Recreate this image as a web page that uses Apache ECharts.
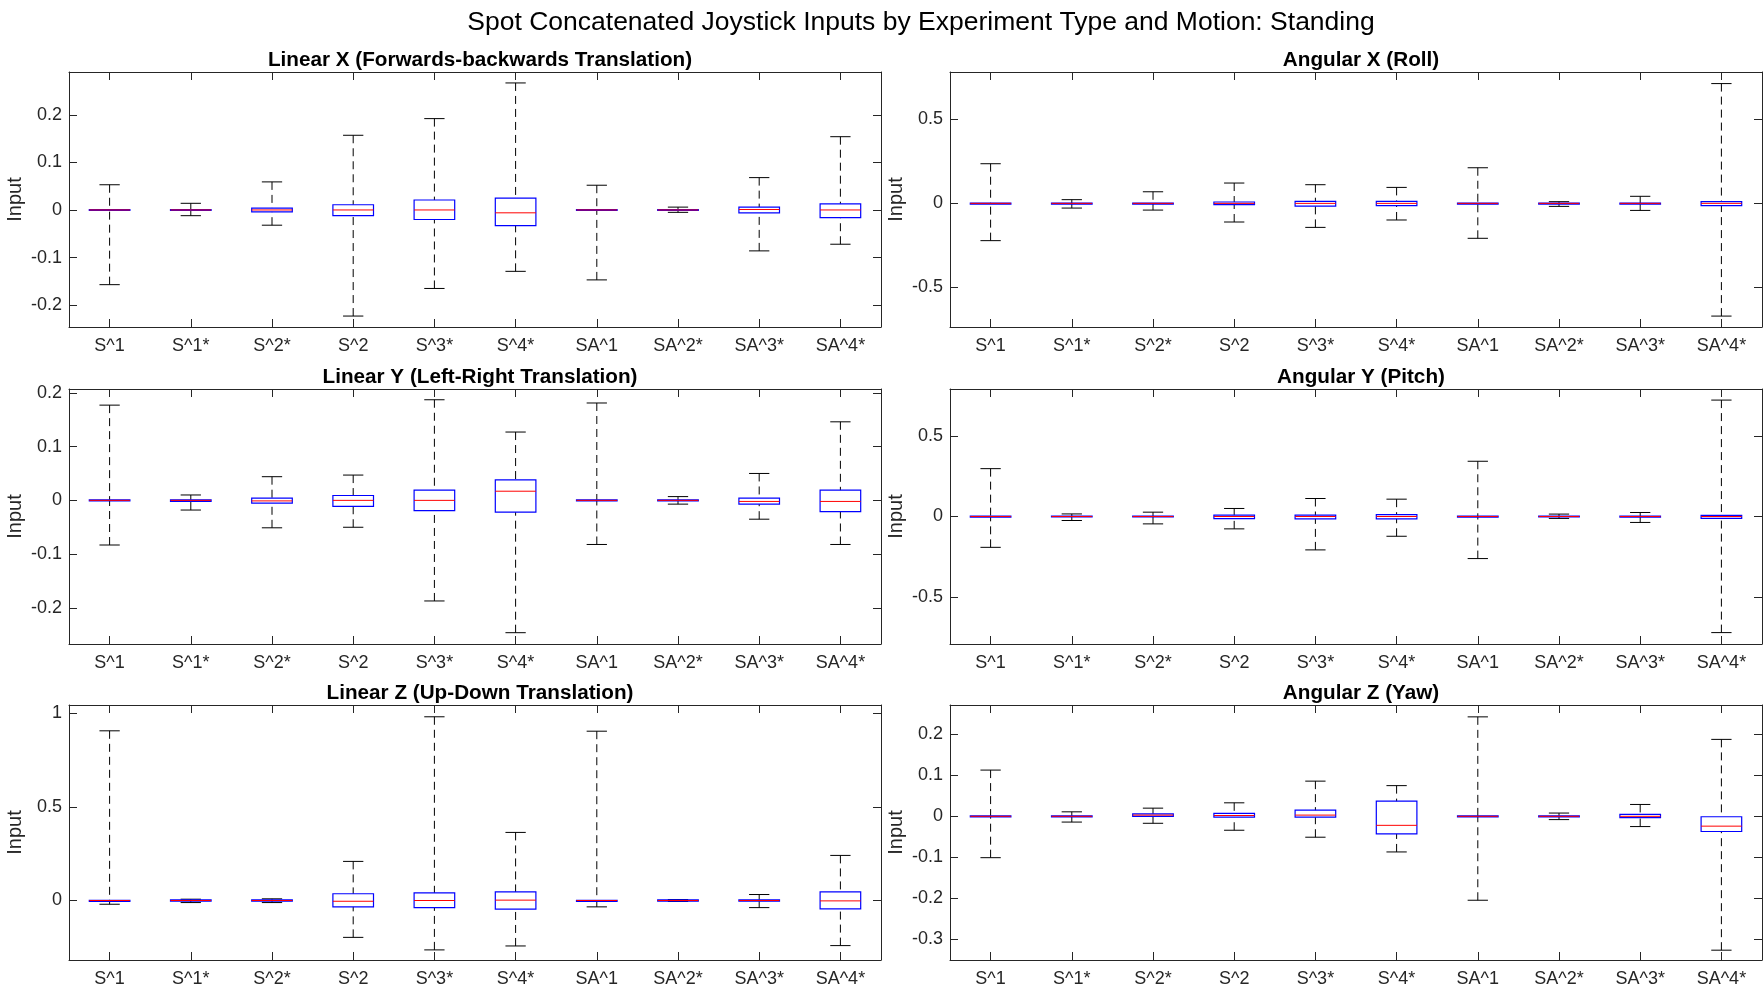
<!DOCTYPE html>
<html>
<head>
    <meta charset="UTF-8">
    <title>Spot Concatenated Joystick Inputs</title>
    <script src="https://cdn.jsdelivr.net/npm/echarts@6.0.0/dist/echarts.min.js"></script>
    <style>
        html, body { margin: 0; padding: 0; background: #fff; }
    </style>
</head>
<body>
    <div id="main" style="width: 1763px;height:991px;"></div>

    <script type="text/javascript">
        // categories (experiment type)
        var categories = ['S^1', 'S^1*', 'S^2*', 'S^2', 'S^3*', 'S^4*', 'SA^1', 'SA^2*', 'SA^3*', 'SA^4*'];

        // each entry: [lower whisker, Q1, median, Q3, upper whisker]
        var linX = [
            [-0.157, -0.001, 0, 0.001, 0.053],
            [-0.012, -0.001, 0, 0.001, 0.014],
            [-0.032, -0.004, 0, 0.004, 0.059],
            [-0.223, -0.012, 0, 0.011, 0.157],
            [-0.165, -0.020, 0, 0.021, 0.192],
            [-0.129, -0.033, -0.006, 0.025, 0.267],
            [-0.147, -0.001, 0, 0.001, 0.052],
            [-0.005, -0.001, 0, 0.001, 0.006],
            [-0.086, -0.006, 0.001, 0.006, 0.068],
            [-0.072, -0.016, 0, 0.013, 0.154]
        ];
        var linY = [
            [-0.083, -0.001, 0, 0.001, 0.177],
            [-0.018, -0.002, 0, 0.001, 0.010],
            [-0.051, -0.005, -0.001, 0.004, 0.044],
            [-0.050, -0.011, 0, 0.009, 0.047],
            [-0.187, -0.019, 0, 0.019, 0.187],
            [-0.246, -0.022, 0.017, 0.038, 0.127],
            [-0.082, -0.001, 0, 0.001, 0.181],
            [-0.007, -0.001, 0, 0.001, 0.007],
            [-0.035, -0.007, -0.002, 0.004, 0.050],
            [-0.082, -0.021, -0.002, 0.019, 0.146]
        ];
        var linZ = [
            [-0.020, -0.001, 0, 0.001, 0.907],
            [-0.011, -0.003, 0, 0.003, 0.007],
            [-0.011, -0.004, 0, 0.004, 0.009],
            [-0.197, -0.034, -0.004, 0.036, 0.209],
            [-0.264, -0.038, 0, 0.041, 0.982],
            [-0.243, -0.046, 0.002, 0.046, 0.364],
            [-0.034, -0.001, 0, 0.001, 0.905],
            [-0.005, -0.003, 0, 0.003, 0.005],
            [-0.038, -0.004, 0, 0.004, 0.032],
            [-0.241, -0.045, -0.002, 0.046, 0.241]
        ];
        var angX = [
            [-0.222, -0.002, 0, 0.002, 0.236],
            [-0.028, -0.002, 0, 0.002, 0.022],
            [-0.040, -0.002, 0, 0.002, 0.069],
            [-0.111, -0.008, 0, 0.008, 0.121],
            [-0.143, -0.016, 0, 0.012, 0.111],
            [-0.099, -0.014, 0, 0.012, 0.095],
            [-0.208, -0.002, 0, 0.002, 0.212],
            [-0.018, -0.002, 0, 0.002, 0.010],
            [-0.042, -0.002, 0, 0.002, 0.042],
            [-0.671, -0.014, 0, 0.010, 0.713]
        ];
        var angY = [
            [-0.192, -0.002, 0, 0.002, 0.298],
            [-0.025, -0.003, 0, 0.003, 0.016],
            [-0.046, -0.003, 0, 0.003, 0.027],
            [-0.077, -0.013, 0, 0.008, 0.050],
            [-0.208, -0.015, 0, 0.008, 0.112],
            [-0.123, -0.015, 0, 0.012, 0.108],
            [-0.262, -0.002, 0, 0.002, 0.344],
            [-0.012, -0.003, 0, 0.003, 0.015],
            [-0.037, -0.002, 0, 0.002, 0.025],
            [-0.723, -0.012, 0, 0.007, 0.725]
        ];
        var angZ = [
            [-0.101, -0.001, 0, 0.001, 0.113],
            [-0.014, -0.001, 0, 0.001, 0.011],
            [-0.017, 0, 0.003, 0.006, 0.020],
            [-0.034, -0.002, 0.002, 0.007, 0.033],
            [-0.051, -0.002, 0.003, 0.015, 0.086],
            [-0.087, -0.043, -0.022, 0.037, 0.075],
            [-0.205, -0.001, 0, 0.001, 0.243],
            [-0.008, -0.001, 0, 0.001, 0.008],
            [-0.025, -0.003, 0, 0.005, 0.029],
            [-0.327, -0.037, -0.024, -0.001, 0.188]
        ];

        // tick labels / axis limits per panel
        var linXTicks = [-0.2, -0.1, 0, 0.1, 0.2];
        var linYTicks = [-0.2, -0.1, 0, 0.1, 0.2];
        var linZTicks = [0, 0.5, 1];
        var angXTicks = [-0.5, 0, 0.5];
        var angYTicks = [-0.5, 0, 0.5];
        var angZTicks = [-0.3, -0.2, -0.1, 0, 0.1, 0.2];

        var panels = [
            { title: 'Linear X (Forwards-backwards Translation)', data: linX, ticks: linXTicks, min: -0.246, max: 0.29 },
            { title: 'Angular X (Roll)', data: angX, ticks: angXTicks, min: -0.736, max: 0.782 },
            { title: 'Linear Y (Left-Right Translation)', data: linY, ticks: linYTicks, min: -0.267, max: 0.207 },
            { title: 'Angular Y (Pitch)', data: angY, ticks: angYTicks, min: -0.794, max: 0.794 },
            { title: 'Linear Z (Up-Down Translation)', data: linZ, ticks: linZTicks, min: -0.318, max: 1.045 },
            { title: 'Angular Z (Yaw)', data: angZ, ticks: angZTicks, min: -0.351, max: 0.272 }
        ];

        var FONT = "'Liberation Sans', Arial, Helvetica, sans-serif";
        var AX = '#262626';
        var colLeft = [69, 950];
        var rowTop = [72, 389, 705];
        var gridW = 812, gridH = 255;

        function renderBox(params, api) {
            var c = api.value(0);
            var lo = api.coord([c, api.value(1)]);
            var q1 = api.coord([c, api.value(2)]);
            var md = api.coord([c, api.value(3)]);
            var q3 = api.coord([c, api.value(4)]);
            var hi = api.coord([c, api.value(5)]);
            var band = api.size([1, 0])[0];
            var bw = band * 0.5, cw = band * 0.25;
            var x = lo[0];
            var dash = { stroke: '#000', lineWidth: 1, lineDash: [8, 5] };
            var solid = { stroke: '#000', lineWidth: 1 };
            return {
                type: 'group',
                children: [
                    { type: 'line', shape: { x1: x, y1: hi[1], x2: x, y2: q3[1] }, style: dash },
                    { type: 'line', shape: { x1: x, y1: lo[1], x2: x, y2: q1[1] }, style: dash },
                    { type: 'line', shape: { x1: x - cw / 2, y1: hi[1], x2: x + cw / 2, y2: hi[1] }, style: solid },
                    { type: 'line', shape: { x1: x - cw / 2, y1: lo[1], x2: x + cw / 2, y2: lo[1] }, style: solid },
                    { type: 'rect', shape: { x: x - bw / 2, y: q3[1], width: bw, height: Math.max(q1[1] - q3[1], 1) },
                      style: { fill: 'none', stroke: '#0000ff', lineWidth: 1.2 } },
                    { type: 'line', shape: { x1: x - bw / 2, y1: md[1], x2: x + bw / 2, y2: md[1] },
                      style: { stroke: '#ff0000', lineWidth: 1 } }
                ]
            };
        }

        var grids = [], xAxes = [], yAxes = [], series = [];
        var titles = [{
            text: 'Spot Concatenated Joystick Inputs by Experiment Type and Motion: Standing',
            left: 916, top: 4, textAlign: 'center',
            textStyle: { fontFamily: FONT, fontSize: 26.5, fontWeight: 'normal', color: '#000' }
        }];

        panels.forEach(function (p, i) {
            var col = i % 2, row = Math.floor(i / 2);
            grids.push({ left: colLeft[col], top: rowTop[row], width: gridW, height: gridH, containLabel: false });
            titles.push({
                text: p.title, left: colLeft[col] + gridW / 2, top: rowTop[row] - 27, textAlign: 'center',
                textStyle: { fontFamily: FONT, fontSize: 20.7, fontWeight: 'bold', color: '#000' }
            });
            var xBase = {
                type: 'category', data: categories, gridIndex: i, boundaryGap: true,
                axisLine: { show: true, onZero: false, lineStyle: { color: AX, width: 1 } },
                axisTick: { show: true, inside: true, length: 8, alignWithLabel: true, lineStyle: { color: AX } },
                splitLine: { show: false }
            };
            xAxes.push(Object.assign({}, xBase, {
                position: 'bottom',
                axisLabel: { show: true, margin: 10, fontFamily: FONT, fontSize: 18, color: AX, interval: 0 }
            }));
            xAxes.push(Object.assign({}, xBase, { position: 'top', axisLabel: { show: false } }));
            var yBase = {
                type: 'value', gridIndex: i, min: p.min, max: p.max, scale: true,
                axisLine: { show: true, onZero: false, lineStyle: { color: AX, width: 1 } },
                axisTick: { show: true, inside: true, length: 8, customValues: p.ticks, lineStyle: { color: AX } },
                splitLine: { show: false }
            };
            yAxes.push(Object.assign({}, yBase, {
                position: 'left',
                name: 'Input', nameLocation: 'middle', nameRotate: 90, nameGap: 44,
                nameTextStyle: { fontFamily: FONT, fontSize: 20, color: AX },
                axisLabel: { show: true, margin: 7, fontFamily: FONT, fontSize: 18, color: AX, customValues: p.ticks }
            }));
            yAxes.push(Object.assign({}, yBase, { position: 'right', axisLabel: { show: false } }));

            series.push({
                type: 'custom',
                xAxisIndex: i * 2,
                yAxisIndex: i * 2,
                renderItem: renderBox,
                encode: { x: 0, y: [1, 2, 3, 4, 5] },
                data: p.data.map(function (d, k) { return [k].concat(d); }),
                silent: true,
                clip: false
            });
        });

        var myChart = echarts.init(document.getElementById('main'), null, { renderer: 'canvas' });
        myChart.setOption({
            backgroundColor: '#fff',
            animation: false,
            title: titles,
            grid: grids,
            xAxis: xAxes,
            yAxis: yAxes,
            series: series
        });
    </script>
</body>
</html>
